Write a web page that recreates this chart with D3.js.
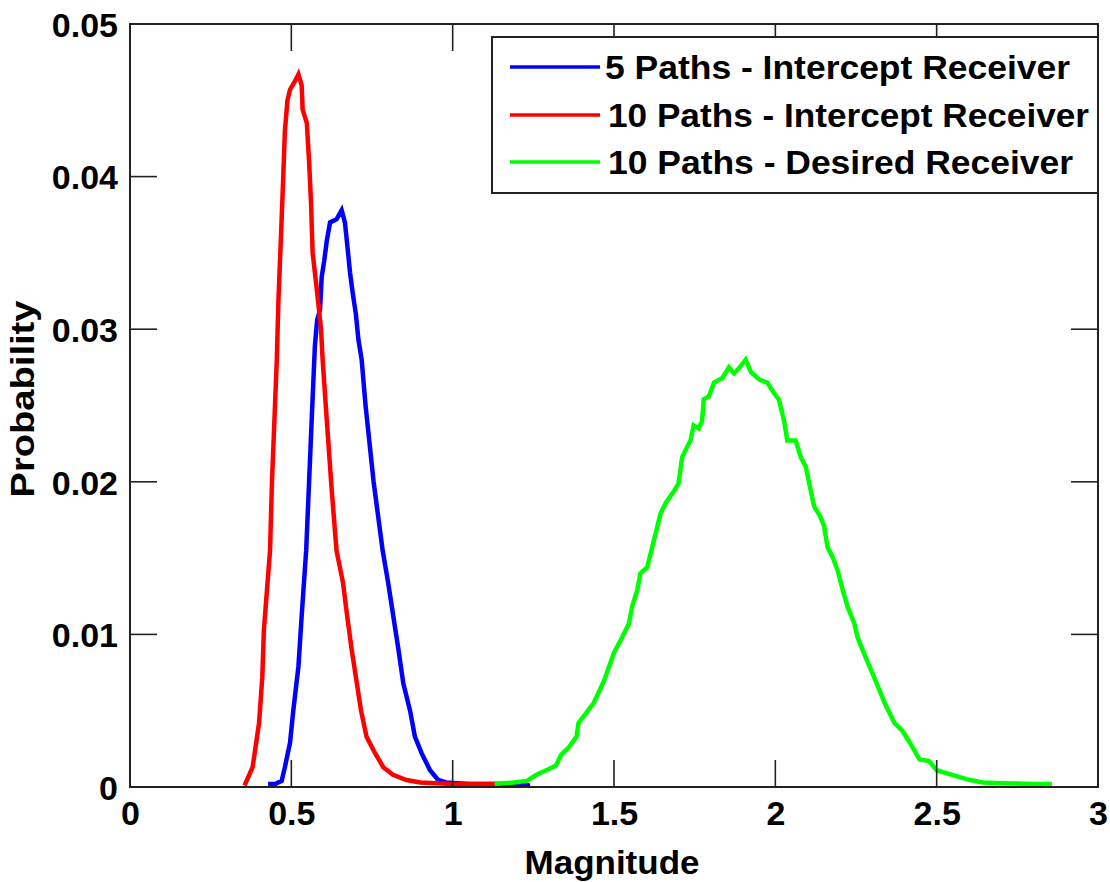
<!DOCTYPE html>
<html><head><meta charset="utf-8">
<script src="https://cdn.jsdelivr.net/npm/d3@7"></script>
<style>
html,body{margin:0;padding:0;background:#fff;}
svg text{font-family:"Liberation Sans",Arial,Helvetica,sans-serif;font-weight:bold;fill:#000;}
</style></head>
<body>
<svg id="chart" width="1110" height="882"></svg>
<script>
// ---- data ----
const xTicks = [0, 0.5, 1, 1.5, 2, 2.5, 3];
const yTicks = [0, 0.01, 0.02, 0.03, 0.04, 0.05];
const xTickLabels = ["0", "0.5", "1", "1.5", "2", "2.5", "3"];
const yTickLabels = ["0", "0.01", "0.02", "0.03", "0.04", "0.05"];
const seriesNames = ["5 Paths - Intercept Receiver", "10 Paths - Intercept Receiver", "10 Paths - Desired Receiver"];
const seriesColors = ["#0000ff", "#ff0000", "#00ff00"];

const blueX = [0.428,0.45,0.47,0.48,0.496,0.506,0.522,0.532,0.546,0.555,0.565,0.573,0.58,0.589,0.594,0.602,0.61,0.62,0.64,0.656,0.666,0.672,0.682,0.69,0.70,0.708,0.718,0.73,0.755,0.783,0.80,0.816,0.832,0.847,0.868,0.883,0.904,0.93,0.955,0.98,1.05,1.17,1.24];
const blueY = [0.0002,0.0002,0.0004,0.0013,0.0029,0.005,0.0079,0.0112,0.0155,0.020,0.025,0.0289,0.0306,0.0313,0.0334,0.0345,0.0358,0.037,0.0372,0.0378,0.037,0.0358,0.0337,0.0324,0.031,0.0293,0.028,0.025,0.020,0.0155,0.0134,0.0112,0.009,0.0068,0.005,0.0033,0.0022,0.0011,0.00046,0.0003,0.0002,0.0002,0.0001];

const redX = [0.355,0.38,0.40,0.41,0.415,0.434,0.44,0.455,0.46,0.467,0.475,0.48,0.488,0.496,0.51,0.522,0.532,0.535,0.548,0.555,0.561,0.566,0.58,0.592,0.597,0.61,0.625,0.64,0.66,0.673,0.687,0.703,0.716,0.733,0.76,0.785,0.815,0.857,0.9,1.0,1.137];
const redY = [0.0001,0.0013,0.0042,0.0072,0.0103,0.0155,0.02,0.028,0.0319,0.0356,0.040,0.043,0.045,0.0457,0.0462,0.0467,0.046,0.0444,0.0435,0.041,0.0383,0.035,0.0324,0.030,0.028,0.024,0.0195,0.0155,0.0134,0.0112,0.009,0.0068,0.005,0.0033,0.0022,0.0013,0.0008,0.00046,0.0003,0.0002,0.0002];

const greenX = [1.13,1.19,1.23,1.26,1.29,1.32,1.336,1.36,1.384,1.39,1.408,1.437,1.47,1.50,1.525,1.546,1.556,1.572,1.582,1.603,1.618,1.629,1.644,1.66,1.686,1.70,1.711,1.727,1.737,1.747,1.763,1.773,1.778,1.794,1.81,1.836,1.856,1.872,1.89,1.908,1.924,1.95,1.975,1.996,2.011,2.027,2.037,2.063,2.079,2.094,2.105,2.12,2.14,2.151,2.162,2.177,2.193,2.209,2.224,2.245,2.255,2.28,2.31,2.339,2.369,2.393,2.417,2.447,2.476,2.50,2.548,2.595,2.643,2.7,2.8,2.857];
const greenY = [0.0002,0.0003,0.0004,0.0008,0.0011,0.0014,0.0021,0.0026,0.0033,0.0042,0.0047,0.0055,0.007,0.0088,0.0098,0.0107,0.0118,0.0129,0.014,0.0144,0.0157,0.0166,0.0179,0.0186,0.0194,0.0199,0.0216,0.0223,0.0227,0.0237,0.0235,0.024,0.0254,0.0256,0.0265,0.0268,0.0275,0.0271,0.0275,0.0280,0.0272,0.0267,0.0265,0.0258,0.0254,0.024,0.0227,0.0227,0.0216,0.021,0.0199,0.0184,0.0177,0.0171,0.0157,0.0151,0.0142,0.0129,0.0118,0.0107,0.0098,0.0085,0.007,0.0055,0.0042,0.0037,0.0029,0.0018,0.0017,0.0011,0.0008,0.0005,0.0003,0.00025,0.0002,0.0002];

const series = [
  {name: seriesNames[0], color: seriesColors[0], xs: blueX, ys: blueY},
  {name: seriesNames[1], color: seriesColors[1], xs: redX, ys: redY},
  {name: seriesNames[2], color: seriesColors[2], xs: greenX, ys: greenY}
];

// ---- layout ----
const L = 130, R = 1098, T = 24, B = 787;
const svg = d3.select("#chart");
const x = d3.scaleLinear().domain([0, 3]).range([L, R]);
const y = d3.scaleLinear().domain([0, 0.05]).range([B, T]);
const tickLen = 27;
const fs = 34;

// series
const line = d3.line().x(d => x(d[0])).y(d => y(d[1]));
series.forEach(s => {
  const pts = s.xs.map((v, i) => [v, s.ys[i]]);
  svg.append("path").datum(pts)
    .attr("d", line)
    .attr("fill", "none")
    .attr("stroke", s.color)
    .attr("stroke-width", 4.5)
    .attr("stroke-linejoin", "miter");
});

// axes (box with inward ticks)
const axG = svg.append("g");
const bottomAx = d3.axisBottom(x).tickValues(xTicks).tickSize(0).tickFormat((d, i) => xTickLabels[i]);
const leftAx = d3.axisLeft(y).tickValues(yTicks).tickSize(0).tickFormat((d, i) => yTickLabels[i]);

const gb = axG.append("g").attr("transform", `translate(0,${B})`).call(bottomAx);
gb.select(".domain").remove();
gb.selectAll("text").attr("font-size", fs).attr("dy", null).attr("y", 38)
  .style("font-family", '"Liberation Sans",Arial,sans-serif').style("font-weight", "bold").attr("fill", "#000");

const gl = axG.append("g").attr("transform", `translate(${L},0)`).call(leftAx);
gl.select(".domain").remove();
gl.selectAll("text").attr("font-size", fs).attr("x", -12).attr("dy", "0.36em")
  .style("font-family", '"Liberation Sans",Arial,sans-serif').style("font-weight", "bold").attr("fill", "#000");

// tick marks inward on all four sides
const tickG = svg.append("g").attr("stroke", "#222").attr("stroke-width", 1.6);
xTicks.forEach(v => {
  tickG.append("line").attr("x1", x(v)).attr("x2", x(v)).attr("y1", B).attr("y2", B - tickLen);
  tickG.append("line").attr("x1", x(v)).attr("x2", x(v)).attr("y1", T).attr("y2", T + tickLen);
});
yTicks.forEach(v => {
  tickG.append("line").attr("x1", L).attr("x2", L + tickLen).attr("y1", y(v)).attr("y2", y(v));
  tickG.append("line").attr("x1", R).attr("x2", R - tickLen).attr("y1", y(v)).attr("y2", y(v));
});
svg.append("rect").attr("x", L).attr("y", T).attr("width", R - L).attr("height", B - T)
  .attr("fill", "none").attr("stroke", "#222").attr("stroke-width", 2);

// axis titles
svg.append("text").attr("x", (L + R) / 2 - 2).attr("y", 874).attr("text-anchor", "middle")
  .attr("font-size", fs).attr("textLength", 175).attr("lengthAdjust", "spacingAndGlyphs").text("Magnitude");
svg.append("text").attr("transform", "translate(34,399) rotate(-90)").attr("text-anchor", "middle")
  .attr("font-size", fs).attr("textLength", 197).attr("lengthAdjust", "spacingAndGlyphs").text("Probability");

// legend
const lg = svg.append("g");
lg.append("rect").attr("x", 492).attr("y", 37).attr("width", 606).attr("height", 156)
  .attr("fill", "#fff").attr("stroke", "#222").attr("stroke-width", 2);
const legendW = [465, 481, 465];
const rowY = [67, 115, 162];
series.forEach((s, i) => {
  lg.append("line").attr("x1", 510).attr("x2", 600).attr("y1", rowY[i]).attr("y2", rowY[i])
    .attr("stroke", s.color).attr("stroke-width", 3.5);
  lg.append("text").attr("x", i === 0 ? 605 : 608).attr("y", rowY[i] + 12)
    .attr("font-size", fs).attr("textLength", legendW[i]).attr("lengthAdjust", "spacingAndGlyphs").text(s.name);
});
</script>
</body></html>
